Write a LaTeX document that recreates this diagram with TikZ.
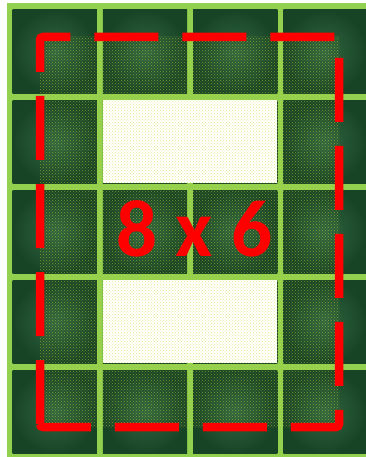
\documentclass[tikz,border=0pt]{standalone}
\usepackage{fontspec}
\setmainfont{Carlito}
\usepackage{tikz}
\usetikzlibrary{patterns}
\definecolor{gridgreen}{RGB}{146, 208, 80}
\definecolor{tiledark}{RGB}{24, 68, 38}
\definecolor{tilelight}{RGB}{48, 102, 64}
\definecolor{markred}{RGB}{255, 0, 0}
\definecolor{dotyellow}{RGB}{205, 220, 45}

\begin{document}
\begin{tikzpicture}[x=1pt,y=-1pt,
    tile/.style={inner color=tilelight,outer color=tiledark},
    areabox/.style={draw=markred,line width=8.5pt,dash pattern=on 64pt off 24pt,rounded corners=3pt},
    arealabel/.style={text=markred,font=\bfseries\fontsize{81}{81}\selectfont,inner sep=0pt}]
    \useasboundingbox (0,0) rectangle (366,457);
    \fill[white] (0,0) rectangle (366,457);
    \fill[gridgreen] (6.5,3) rectangle (366,457);
    % marble tiles between the grid lines
    \foreach \c in {0,...,3}
        \foreach \r in {0,...,4}
            \shade[tile] ({9.5+90.3*\c+3},{6.5+90.1*\r+3.5}) rectangle ({min(366,9.5+90.3*(\c+1)-3)},{6.5+90.1*(\r+1)-3.5});
    % empty cells
    \fill[white] (102.8,99.6) rectangle (277.4,183.2);
    \fill[white] (102.8,279.8) rectangle (277.4,363.4);
    \fill[pattern=crosshatch dots,pattern color=dotyellow,fill opacity=0.55] (40,37) rectangle (339,427);
    \draw[areabox] (40,427) -- (40,37) -- (339,37) -- (339,427) -- cycle;
    \node[arealabel] (size) at (194.5,229) {8 x 6};
\end{tikzpicture}
\end{document}
